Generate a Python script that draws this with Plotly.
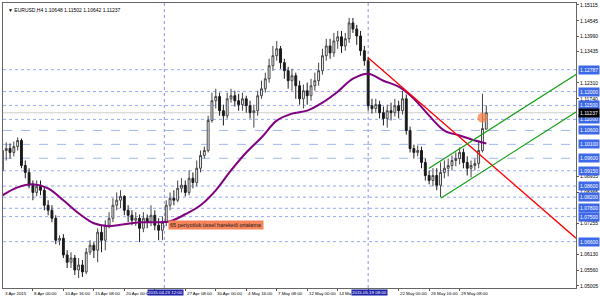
import plotly.graph_objects as go

# ---------------- data (EURUSD H4, two-bar candles) ----------------
bar_index = list(range(0, 256, 2))
opens = [1.0916,1.0988,1.0995,1.0981,1.1002,1.1024,1.0934,1.0909,1.0863,1.0837,
         1.0859,1.0845,1.0791,1.0773,1.0744,1.0665,1.0672,1.0612,1.0586,1.0601,
         1.0558,1.0576,1.0551,1.0622,1.0647,1.0629,1.0694,1.0665,1.0719,1.0744,
         1.0791,1.0809,1.0823,1.0773,1.0755,1.0737,1.0744,1.0708,1.0744,1.0730,
         1.0755,1.0719,1.0701,1.0730,1.0791,1.0816,1.0809,1.0852,1.0863,1.0837,
         1.0888,1.0873,1.0924,1.0970,1.0988,1.1096,1.1167,1.1182,1.1131,1.1113,
         1.1174,1.1185,1.1167,1.1153,1.1174,1.1149,1.1124,1.1131,1.1185,1.1210,
         1.1246,1.1293,1.1329,1.1354,1.1304,1.1275,1.1239,1.1257,1.1221,1.1174,
         1.1203,1.1185,1.1221,1.1239,1.1275,1.1329,1.1364,1.1339,1.1382,1.1397,
         1.1364,1.1390,1.1447,1.1425,1.1400,1.1347,1.1311,1.1149,1.1139,1.1153,
         1.1124,1.1103,1.1131,1.1124,1.1149,1.1131,1.1174,1.1060,1.0995,1.0981,
         1.0988,1.0945,1.0898,1.0880,1.0898,1.0863,1.0909,1.0924,1.0934,1.0952,
         1.0959,1.0981,1.0945,1.0924,1.0934,1.0941,1.0988,1.10648]
highs = [1.1013,1.1017,1.1013,1.1020,1.1035,1.1031,1.0952,1.0924,1.0880,1.0880,
         1.0880,1.0859,1.0809,1.0791,1.0755,1.0683,1.0687,1.0629,1.0622,1.0612,
         1.0601,1.0594,1.0637,1.0665,1.0658,1.0708,1.0716,1.0737,1.0766,1.0816,
         1.0837,1.0845,1.0827,1.0791,1.0773,1.0766,1.0758,1.0766,1.0758,1.0791,
         1.0773,1.0744,1.0751,1.0809,1.0837,1.0845,1.0880,1.0888,1.0880,1.0916,
         1.0909,1.0952,1.0988,1.1002,1.1113,1.1196,1.1210,1.1196,1.1153,1.1196,
         1.1210,1.1203,1.1192,1.1196,1.1185,1.1167,1.1153,1.1203,1.1239,1.1268,
         1.1318,1.1364,1.1382,1.1364,1.1318,1.1289,1.1282,1.1268,1.1239,1.1225,
         1.1232,1.1246,1.1268,1.1304,1.1354,1.1390,1.1390,1.1411,1.1418,1.1418,
         1.1411,1.1465,1.1465,1.1440,1.1418,1.1364,1.1325,1.1174,1.1174,1.1167,
         1.1146,1.1153,1.1160,1.1174,1.1167,1.1203,1.1189,1.1074,1.1009,1.1006,
         1.1002,1.0959,1.0916,1.0924,1.0924,1.0945,1.0952,1.0959,1.0970,1.0981,
         1.0999,1.0995,1.0967,1.0952,1.0959,1.1024,1.1192,1.11502]
lows = [1.0870,1.0952,1.0959,1.0967,1.0988,1.0924,1.0888,1.0852,1.0809,1.0823,
        1.0827,1.0773,1.0755,1.0730,1.0651,1.0647,1.0601,1.0565,1.0565,1.0540,
        1.0529,1.0533,1.0543,1.0612,1.0601,1.0586,1.0622,1.0629,1.0708,1.0730,
        1.0773,1.0780,1.0755,1.0730,1.0719,1.0716,1.0658,1.0694,1.0708,1.0716,
        1.0701,1.0665,1.0665,1.0716,1.0773,1.0791,1.0802,1.0837,1.0823,1.0827,
        1.0852,1.0859,1.0909,1.0959,1.0981,1.1088,1.1139,1.1113,1.1078,1.1103,
        1.1160,1.1146,1.1131,1.1131,1.1124,1.1103,1.1070,1.1113,1.1174,1.1196,
        1.1232,1.1275,1.1311,1.1282,1.1246,1.1210,1.1203,1.1174,1.1153,1.1139,
        1.1153,1.1167,1.1203,1.1221,1.1261,1.1311,1.1318,1.1325,1.1354,1.1339,
        1.1347,1.1375,1.1411,1.1368,1.1329,1.1293,1.1131,1.1121,1.1124,1.1103,
        1.1078,1.1070,1.1096,1.1110,1.1103,1.1117,1.1045,1.0981,1.0959,1.0967,
        1.0924,1.0880,1.0866,1.0859,1.0845,1.0820,1.0888,1.0895,1.0916,1.0931,
        1.0938,1.0924,1.0898,1.0891,1.0916,1.0924,1.0981,1.10642]
closes = [1.0988,1.0995,1.0981,1.1002,1.1024,1.0934,1.0909,1.0863,1.0837,1.0859,
          1.0845,1.0791,1.0773,1.0744,1.0665,1.0672,1.0612,1.0586,1.0601,1.0558,
          1.0576,1.0551,1.0622,1.0647,1.0629,1.0694,1.0665,1.0719,1.0744,1.0791,
          1.0809,1.0823,1.0773,1.0755,1.0737,1.0744,1.0708,1.0744,1.0730,1.0755,
          1.0719,1.0701,1.0730,1.0791,1.0816,1.0809,1.0852,1.0863,1.0837,1.0888,
          1.0873,1.0924,1.0970,1.0988,1.1096,1.1167,1.1182,1.1131,1.1113,1.1174,
          1.1185,1.1167,1.1153,1.1174,1.1149,1.1124,1.1131,1.1185,1.1210,1.1246,
          1.1293,1.1329,1.1354,1.1304,1.1275,1.1239,1.1257,1.1221,1.1174,1.1203,
          1.1185,1.1221,1.1239,1.1275,1.1329,1.1364,1.1339,1.1382,1.1397,1.1364,
          1.1390,1.1447,1.1425,1.1400,1.1347,1.1311,1.1149,1.1139,1.1153,1.1124,
          1.1103,1.1131,1.1124,1.1149,1.1131,1.1174,1.1060,1.0995,1.0981,1.0988,
          1.0945,1.0898,1.0880,1.0898,1.0863,1.0909,1.0924,1.0934,1.0952,1.0959,
          1.0981,1.0945,1.0924,1.0934,1.0941,1.0988,1.1067,1.11237]

ema_index = [0,8,16,24,32,40,48,56,64,72,80,88,96,104,112,120,128,136,144,152,
             160,168,176,184,192,200,208,216,224,232,240,248,254]
ema_values = [1.08266,1.08553,1.08661,1.08517,1.08087,1.07621,1.07262,1.07155,
              1.07226,1.07298,1.07298,1.07334,1.07585,1.07908,1.08446,1.09163,
              1.09808,1.10346,1.10955,1.11206,1.11314,1.11601,1.11995,1.12461,
              1.12641,1.12390,1.12174,1.11744,1.11135,1.10597,1.10418,1.10238,1.10130]

x_tick_index = [0.4,16,32,48,64,96,112,128,144,160,176,208,224,240]
x_tick_text = ["3 Apr 2015","8 Apr 00:00","10 Apr 16:00","15 Apr 08:00","20 Apr 00:00",
               "27 Apr 08:00","30 Apr 00:00","4 May 16:00","7 May 08:00",
               "12 May 00:00","14 Ma","22 May 00:00","26 May 16:00","29 May 08:00"]
y_tick_values = [1.15115,1.14545,1.13990,1.13435,1.12310,1.11740,
                 1.08935,1.08365,1.07255,1.06130,1.05560,1.05005]

dotted_levels = [1.12787,1.12000,1.11500,1.11000,1.09150,1.08600,1.08200,1.07800,1.07500,1.06600]
dashed_levels = [1.10600,1.10100,1.09600]
current_price = 1.11237
header = "EURUSD,H4 1.10648 1.11502 1.10642 1.11237"

vline_index = [85, 192]
vline_text = ["2015.04.23 12:00", "2015.05.19 08:00"]

red_line_index = [192, 301.1]
red_line_price = [1.13214, 1.06724]
green_upper_index = [223.8, 301.1]
green_upper_price = [1.09235, 1.12616]
green_lower_index = [230.1, 301.1]
green_lower_price = [1.08159, 1.11264]

ema_label = "65 periyotluk üssel hareketli ortalama"
ema_label_index = 87
ema_label_price = 1.0719
circle_index = 252
circle_price = 1.1106

X_RANGE = [0.31, 301.1]
Y_RANGE = [1.04932, 1.15186]
FONT = "Liberation Sans"

# ---------------- figure ----------------
fig = go.Figure()

shapes = []
for lv in dotted_levels:
    shapes.append(dict(type="line", xref="x", yref="y", x0=X_RANGE[0], x1=X_RANGE[1],
                       y0=lv, y1=lv, line=dict(color="#98a8f4", width=1, dash="dot"), layer="below"))
for lv in dashed_levels:
    shapes.append(dict(type="line", xref="x", yref="y", x0=X_RANGE[0], x1=X_RANGE[1],
                       y0=lv, y1=lv, line=dict(color="#a4b8f6", width=1, dash="dash"), layer="below"))
shapes.append(dict(type="line", xref="x", yref="y", x0=X_RANGE[0], x1=X_RANGE[1],
                   y0=current_price, y1=current_price, line=dict(color="#cccccc", width=1), layer="below"))
for vi in vline_index:
    shapes.append(dict(type="line", xref="x", yref="paper", x0=vi, x1=vi, y0=0, y1=1,
                       line=dict(color="#8f8fea", width=1, dash="dot"), layer="below"))

fig.add_trace(go.Candlestick(
    x=bar_index, open=opens, high=highs, low=lows, close=closes,
    increasing=dict(line=dict(color="#444444", width=1), fillcolor="#ffffff"),
    decreasing=dict(line=dict(color="#1a1a1a", width=1), fillcolor="#1a1a1a"),
    whiskerwidth=0, showlegend=False, hoverinfo="skip"))

fig.add_trace(go.Scatter(x=ema_index, y=ema_values, mode="lines",
                         line=dict(color="#800080", width=2, shape="spline"),
                         showlegend=False, hoverinfo="skip"))
fig.add_trace(go.Scatter(x=red_line_index, y=red_line_price, mode="lines",
                         line=dict(color="#ff0000", width=1.3), showlegend=False, hoverinfo="skip"))
fig.add_trace(go.Scatter(x=green_upper_index, y=green_upper_price, mode="lines",
                         line=dict(color="#13a013", width=1.2), showlegend=False, hoverinfo="skip"))
fig.add_trace(go.Scatter(x=green_lower_index, y=green_lower_price, mode="lines",
                         line=dict(color="#13a013", width=1.2), showlegend=False, hoverinfo="skip"))
fig.add_trace(go.Scatter(x=[circle_index], y=[circle_price], mode="markers",
                         marker=dict(size=10, color="rgba(244,128,70,0.75)", line=dict(width=0)),
                         showlegend=False, hoverinfo="skip"))

ann = []
# header
ann.append(dict(xref="paper", yref="paper", x=0, y=1, xanchor="left", yanchor="top",
                xshift=3, yshift=-2, text="▼ " + header, showarrow=False,
                font=dict(family=FONT, size=5, color="#000000")))
# x tick labels
for xi, tt in zip(x_tick_index, x_tick_text):
    ann.append(dict(xref="x", yref="paper", x=xi, y=0, xanchor="left", yanchor="top",
                    xshift=-0.5, yshift=-1, text=tt, showarrow=False,
                    font=dict(family=FONT, size=4.4, color="#000000")))
# vertical line date boxes
for xi, tt in zip(vline_index, vline_text):
    ann.append(dict(xref="x", yref="paper", x=xi, y=0, xanchor="center", yanchor="top",
                    xshift=1.5, yshift=-1, text=tt, showarrow=False, bgcolor="#1f24a8", borderpad=0,
                    font=dict(family=FONT, size=4.4, color="#ffffff")))
# price level boxes on right axis
for lv in dotted_levels + dashed_levels:
    ann.append(dict(xref="paper", yref="y", x=1, y=lv, xanchor="left", yanchor="middle",
                    xshift=2, text=f"{lv:.5f}", showarrow=False, bgcolor="#3d68e8", borderpad=1,
                    font=dict(family=FONT, size=5, color="#ffffff")))
ann.append(dict(xref="paper", yref="y", x=1, y=current_price, xanchor="left", yanchor="middle",
                xshift=2, text=f"{current_price:.5f}", showarrow=False, bgcolor="#000000", borderpad=1,
                font=dict(family=FONT, size=5, color="#ffffff")))
# EMA text label
ann.append(dict(xref="x", yref="y", x=ema_label_index, y=ema_label_price, xanchor="left",
                yanchor="middle", text=ema_label, showarrow=False, bgcolor="#f7845a", borderpad=1,
                font=dict(family=FONT, size=5.5, color="#222222")))

fig.update_layout(
    width=600, height=298,
    margin=dict(l=2, r=22, t=2, b=10),
    paper_bgcolor="#ffffff", plot_bgcolor="#ffffff",
    shapes=shapes, annotations=ann, showlegend=False,
    xaxis=dict(range=X_RANGE, rangeslider=dict(visible=False), showgrid=False, zeroline=False,
               tickvals=[0,16,32,48,64,80,96,112,128,144,160,176,192,208,224,240],
               ticks="outside", ticklen=2, tickcolor="#555555",
               showticklabels=False, showline=True, linecolor="#666666", linewidth=1, mirror=True),
    yaxis=dict(range=Y_RANGE, side="right", showgrid=False, zeroline=False,
               tickvals=y_tick_values, ticktext=[f"{v:.5f}" for v in y_tick_values],
               ticks="outside", ticklen=2, tickcolor="#555555",
               tickfont=dict(family=FONT, size=5, color="#000000"),
               showline=True, linecolor="#666666", linewidth=1, mirror=True),
)

fig.write_html("out.html")
